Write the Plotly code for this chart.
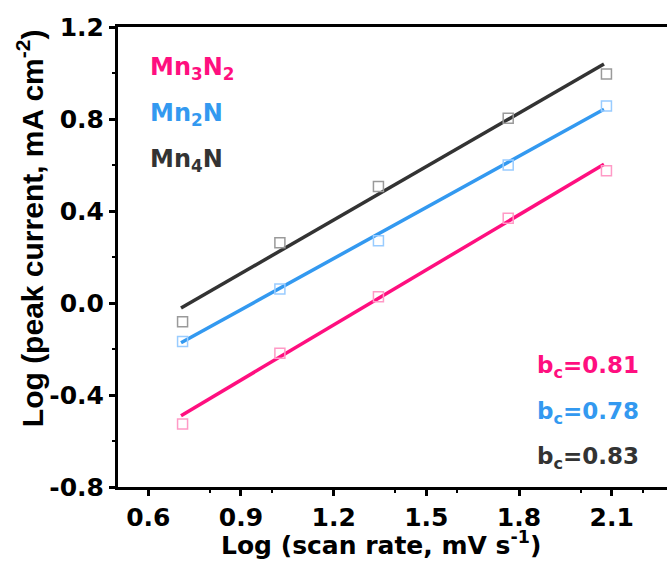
import plotly.graph_objects as go

# Data (log scan rate, log peak current)
x_points = [0.711, 1.026, 1.345, 1.765, 2.083]
mn3n2_y = [-0.526, -0.219, 0.027, 0.368, 0.575]
mn2n_y = [-0.167, 0.061, 0.271, 0.600, 0.857]
mn4n_y = [-0.081, 0.262, 0.506, 0.803, 0.996]

# Fitted lines (endpoints)
fit_x = [0.706, 2.075]
mn3n2_fit = [-0.490, 0.603]
mn2n_fit = [-0.173, 0.842]
mn4n_fit = [-0.022, 1.039]

names = ["Mn<sub>3</sub>N<sub>2</sub>", "Mn<sub>2</sub>N", "Mn<sub>4</sub>N"]
slopes = ["b<sub>c</sub>=0.81", "b<sub>c</sub>=0.78", "b<sub>c</sub>=0.83"]
line_colors = ["#FF0F7F", "#3399F0", "#333333"]
marker_colors = ["#FF9AC6", "#99CCFF", "#9A9A9A"]

x_title = "Log (scan rate, mV s<sup>-1</sup>)"
y_title = "Log (peak current, mA cm<sup>-2</sup>)"

WIDE = "DejaVu Sans, Verdana, sans-serif"
NARROW = "Liberation Sans, Arial, sans-serif"

fig = go.Figure()
for ys, fy, lc, mc in zip([mn3n2_y, mn2n_y, mn4n_y], [mn3n2_fit, mn2n_fit, mn4n_fit], line_colors, marker_colors):
    fig.add_trace(go.Scatter(x=fit_x, y=fy, mode="lines", line=dict(color=lc, width=3.5), showlegend=False))
    fig.add_trace(go.Scatter(x=x_points, y=ys, mode="markers",
                             marker=dict(symbol="square-open", size=10, color=mc, line=dict(width=1.5, color=mc)),
                             showlegend=False))

for i, (n, c) in enumerate(zip(names, line_colors)):
    fig.add_annotation(x=0.054, y=0.91 - i * 0.1, xref="paper", yref="paper", text=n, showarrow=False,
                       xanchor="left", yanchor="middle",
                       font=dict(family=WIDE, size=24, color=c, weight="bold"))

for i, (s, c) in enumerate(zip(slopes, line_colors)):
    fig.add_annotation(x=0.76, y=0.26 - i * 0.0985, xref="paper", yref="paper", text=s, showarrow=False,
                       xanchor="left", yanchor="middle",
                       font=dict(family=WIDE, size=23, color=c, weight="bold"))

# axis titles
fig.add_annotation(x=0.479, y=-0.122, xref="paper", yref="paper", text=x_title, showarrow=False,
                   xanchor="center", yanchor="middle",
                   font=dict(family=WIDE, size=25, color="black", weight="bold"))
fig.add_annotation(x=-0.16, y=0.563, xref="paper", yref="paper", text=y_title, showarrow=False,
                   textangle=-90, xanchor="center", yanchor="middle",
                   font=dict(family=NARROW, size=30, color="black", weight="bold"))

axis_common = dict(
    showgrid=False, zeroline=False, showline=True, linecolor="black", linewidth=3,
    ticks="outside", ticklen=6, tickwidth=2.5, tickcolor="black",
    tickfont=dict(family=WIDE, size=25, color="black", weight="bold"),
    minor=dict(ticks="outside", ticklen=3, tickwidth=2, tickcolor="black", nticks=2),
)

fig.update_xaxes(range=[0.502, 2.279], tickmode="array", tickvals=[0.6, 0.9, 1.2, 1.5, 1.8, 2.1],
                 ticktext=["0.6", "0.9", "1.2", "1.5", "1.8", "2.1"], mirror=True, **axis_common)
fig.update_yaxes(range=[-0.8, 1.2], tickmode="array", tickvals=[-0.8, -0.4, 0.0, 0.4, 0.8, 1.2],
                 ticktext=["-0.8", "-0.4", "0.0", "0.4", "0.8", "1.2"], mirror=False, **axis_common)

fig.update_layout(width=667, height=574, margin=dict(l=118, r=0, t=27, b=87),
                  plot_bgcolor="white", paper_bgcolor="white")

fig.write_html("out.html")
